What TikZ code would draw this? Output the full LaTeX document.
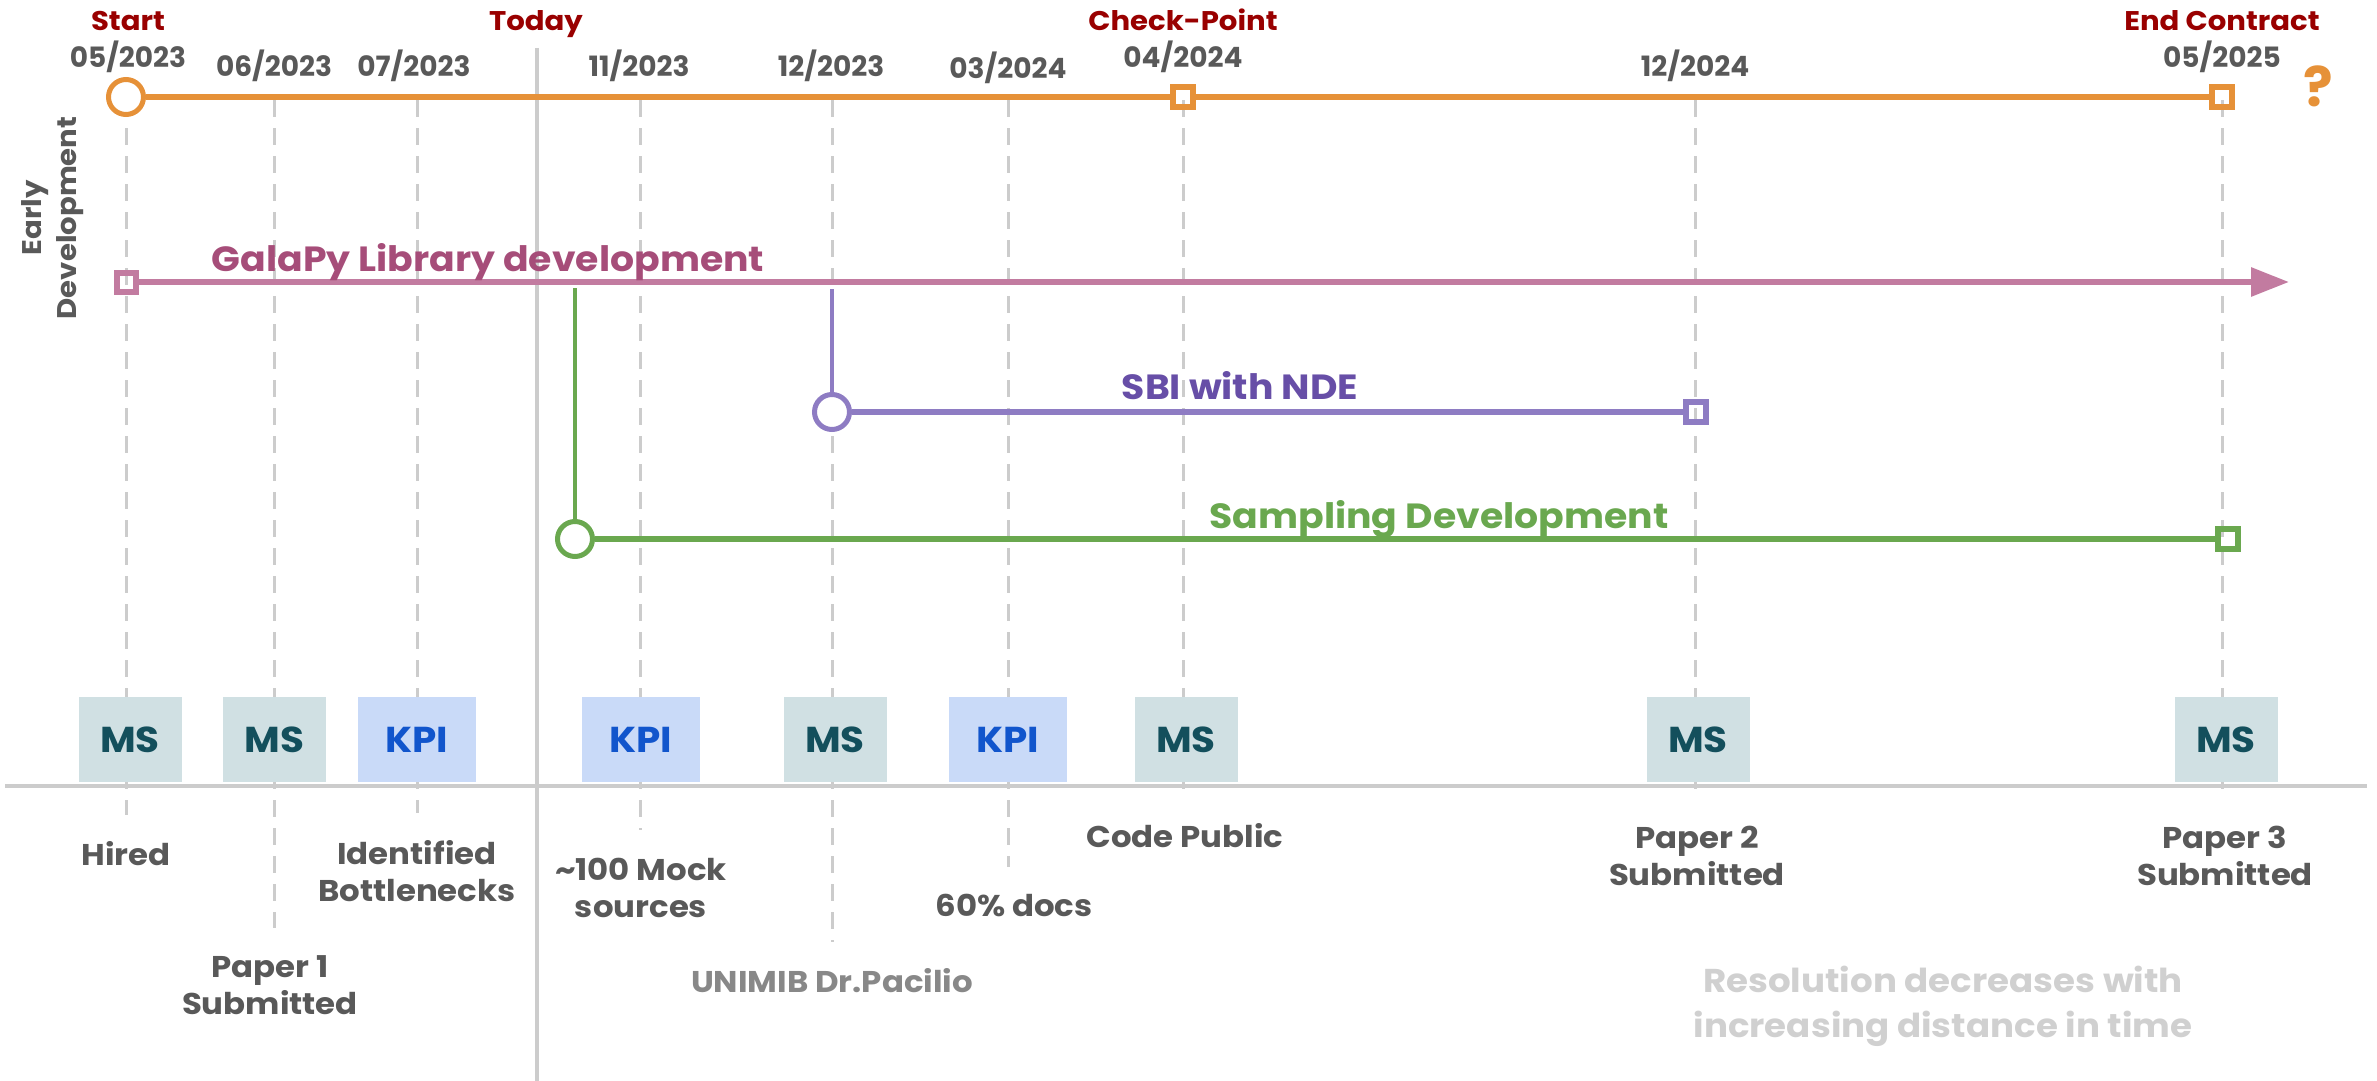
\documentclass[tikz,border=0pt]{standalone}
\usepackage{fontspec}
\setmainfont{Poppins}[UprightFont=* Bold, BoldFont=* Bold, FakeStretch=1.08]
\newfontfamily\plainfont{Poppins Bold}
\usetikzlibrary{arrows.meta}

\definecolor{lgrey}{HTML}{CCCCCC}
\definecolor{dgrey}{HTML}{595959}
\definecolor{mgrey}{HTML}{888888}
\definecolor{fgrey}{HTML}{D0D0D0}
\definecolor{dred}{HTML}{990000}
\definecolor{orng}{HTML}{E69138}
\definecolor{pinkl}{HTML}{C27BA0}
\definecolor{pinkt}{HTML}{A64D79}
\definecolor{purpl}{HTML}{8E7CC3}
\definecolor{purpt}{HTML}{674EA7}
\definecolor{grn}{HTML}{6AA84F}
\definecolor{msfill}{HTML}{D0E0E3}
\definecolor{mstext}{HTML}{134F5C}
\definecolor{kpifill}{HTML}{C9DAF8}
\definecolor{kpitext}{HTML}{1155CC}

\tikzset{
  guide/.style={draw=lgrey, line width=3pt, dash pattern=on 17pt off 11pt},
  dateL/.style={text=dgrey, font=\plainfont\fontsize{28}{34}\selectfont, anchor=base, inner sep=0},
  titleL/.style={text=dred, font=\fontsize{27}{32}\selectfont, anchor=base, inner sep=0},
  evL/.style={text=dgrey, font=\fontsize{30}{37}\selectfont, anchor=base, inner sep=0, align=center},
  trackL/.style={font=\fontsize{35}{40}\selectfont, anchor=base, inner sep=0},
  msbox/.style={fill=msfill, text=mstext, minimum width=103pt, minimum height=85pt, inner sep=0, font=\fontsize{36}{40}\selectfont},
  kpibox/.style={fill=kpifill, text=kpitext, minimum width=118pt, minimum height=85pt, inner sep=0, font=\fontsize{36}{40}\selectfont},
  ringS/.style={circle, draw=#1, line width=5pt, fill=white, minimum size=35pt, inner sep=0},
  boxS/.style={rectangle, draw=#1, line width=6pt, minimum size=20pt, inner sep=0},
}

\begin{document}
\begin{tikzpicture}[x=1pt,y=-1pt]
\useasboundingbox (0,0) rectangle (2377,1081);

% dashed month guides
\foreach \gx/\gy [count=\i] in {126/815, 274/928, 417/813, 640/830, 832/942, 1008/867, 1183/798, 1695/798, 2222/798}{
  \coordinate (gt\i) at (\gx,100);
  \coordinate (gb\i) at (\gx,\gy);
  \draw[guide] (gt\i) -- (gb\i);
}

% "today" marker and time axis
\coordinate (todayTop) at (537,48);
\coordinate (todayBot) at (537,1081);
\draw[lgrey, line width=3.5pt] (todayTop) -- (todayBot);
\coordinate (axL) at (5,786);
\coordinate (axR) at (2367,786);
\draw[lgrey, line width=4pt] (axL) -- (axR);

% milestone / KPI boxes
\node[msbox]  (b1) at (130,739.5) {MS};
\node[msbox]  (b2) at (274.5,739.5) {MS};
\node[kpibox] (b3) at (417,739.5) {KPI};
\node[kpibox] (b4) at (641,739.5) {KPI};
\node[msbox]  (b5) at (835,739.5) {MS};
\node[kpibox] (b6) at (1008,739.5) {KPI};
\node[msbox]  (b7) at (1186,739.5) {MS};
\node[msbox]  (b8) at (1698,739.5) {MS};
\node[msbox]  (b9) at (2226,739.5) {MS};

% contract track
\node[ringS=orng] (start) at (126,97) {};
\node[boxS=orng]  (cp)    at (1183,97) {};
\node[boxS=orng]  (endc)  at (2222,97) {};
\draw[orng, line width=6pt] (start) -- (cp) -- (endc);
\node[text=orng, font=\plainfont\fontsize{55}{60}\selectfont, inner sep=0] (qm) at (2318,86) {?};

% library track
\node[boxS=pinkl, minimum size=19pt] (gsq) at (126,282) {};
\coordinate (gend) at (2289,282);
\draw[pinkl, line width=6pt, -{Triangle[length=38pt, width=28pt]}] (gsq) -- (gend);
\node[trackL, text=pinkt] (galapy) at (488,271) {GalaPy Library development};

% SBI track
\coordinate (sbiTop) at (832,289);
\node[ringS=purpl] (sbiS) at (832,412) {};
\node[boxS=purpl]  (sbiE) at (1696,412) {};
\draw[purpl, line width=4pt] (sbiTop) -- (sbiS);
\draw[purpl, line width=6pt] (sbiS) -- (sbiE);
\node[trackL, text=purpt] (sbi) at (1240,399) {SBI with NDE};

% sampling track
\coordinate (sampTop) at (575,288);
\node[ringS=grn] (sampS) at (575,539) {};
\node[boxS=grn]  (sampE) at (2228,539) {};
\draw[grn, line width=4pt] (sampTop) -- (sampS);
\draw[grn, line width=6pt] (sampS) -- (sampE);
\node[trackL, text=grn] (samp) at (1439,528) {Sampling Development};

% headings
\node[titleL] (tStart) at (128,31) {Start};
\node[titleL] (tToday) at (536,31) {Today};
\node[titleL] (tCheck) at (1183,31) {Check-Point};
\node[titleL] (tEnd)   at (2222,31) {End Contract};

% dates
\node[dateL] (d1) at (128,67) {05/2023};
\node[dateL] (d2) at (274,77) {06/2023};
\node[dateL] (d3) at (414,77) {07/2023};
\node[dateL] (d4) at (639,77) {11/2023};
\node[dateL] (d5) at (831,77) {12/2023};
\node[dateL] (d6) at (1008,78) {03/2024};
\node[dateL] (d7) at (1183,67) {04/2024};
\node[dateL] (d8) at (1695,77) {12/2024};
\node[dateL] (d9) at (2222,67) {05/2025};

% side label
\node[text=dgrey, font=\fontsize{27}{35}\selectfont, align=center, rotate=90, inner sep=0] (early) at (53,218) {Early\\Development};

% events (anchored at the baseline of the last line)
\node[evL] (e1) at (126,865) {Hired};
\node[evL] (e2) at (270,1014) {Paper 1\\Submitted};
\node[evL] (e3) at (417,901) {Identified\\Bottlenecks};
\node[evL] (e4) at (641,917) {\textasciitilde100 Mock\\sources};
\node[evL, text=mgrey] (e5) at (832,992) {UNIMIB Dr.Pacilio};
\node[evL] (e6) at (1014,916) {60\% docs};
\node[evL] (e7) at (1185,847) {Code Public};
\node[evL] (e8) at (1697,885) {Paper 2\\Submitted};
\node[evL] (e9) at (2225,885) {Paper 3\\Submitted};
\node[evL, text=fgrey, font=\fontsize{33}{45}\selectfont] (note) at (1943,1037) {Resolution decreases with\\increasing distance in time};
\end{tikzpicture}
\end{document}
